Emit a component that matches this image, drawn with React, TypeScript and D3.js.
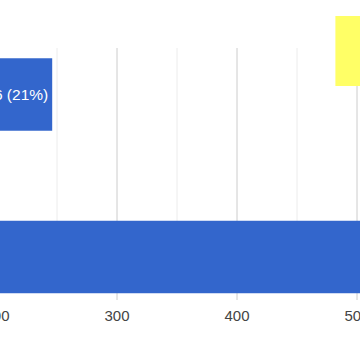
import React from "react";
import * as d3 from "d3";

const categories = ["Row 1", "Row 2"];
const values = [246, 560];
const labels = ["246 (21%)", ""];
const majorTicks = [200, 300, 400, 500];
const minorTicks = [250, 350, 450];
const highlightRange = [482, 540];

export default function App() {
  const W = 360;
  const H = 360;
  const x = d3.scaleLinear().domain([200, 500]).range([-3, 357]);
  const y = d3
    .scaleBand<string>()
    .domain(categories)
    .range([13.25, 338.25])
    .paddingInner(0.554)
    .paddingOuter(0.277);
  const gridTop = 48;
  const gridBottom = 293;
  return (
    <svg
      width={W}
      height={H}
      style={{ position: "absolute", left: 0, top: 0, background: "#fff" }}
      fontFamily="Arial, 'Liberation Sans', sans-serif"
    >
      <rect width={W} height={H} fill="#fff" />
      {minorTicks.map((t) => (
        <line key={"m" + t} x1={x(t)} x2={x(t)} y1={gridTop} y2={gridBottom} stroke="#ececec" strokeWidth={1} />
      ))}
      {majorTicks.map((t) => (
        <line key={"M" + t} x1={x(t)} x2={x(t)} y1={gridTop} y2={300} stroke="#cccccc" strokeWidth={1} />
      ))}
      <rect
        x={x(highlightRange[0])}
        y={16}
        width={x(highlightRange[1]) - x(highlightRange[0])}
        height={70}
        fill="#ffff66"
      />
      {categories.map((c, i) => (
        <g key={c}>
          <rect
            x={x(0)}
            y={y(c)}
            width={x(values[i]) - x(0)}
            height={y.bandwidth()}
            fill="#3366cc"
          />
          {labels[i] && (
            <text
              x={x(values[i]) - 4}
              y={(y(c) as number) + y.bandwidth() / 2}
              dy="0.35em"
              textAnchor="end"
              fill="#ffffff"
              fontSize={15.5}
            >
              {labels[i]}
            </text>
          )}
        </g>
      ))}
      {majorTicks.map((t) => (
        <text key={"t" + t} x={x(t)} y={321} textAnchor="middle" fill="#444" fontSize={15}>
          {t}
        </text>
      ))}
    </svg>
  );
}
